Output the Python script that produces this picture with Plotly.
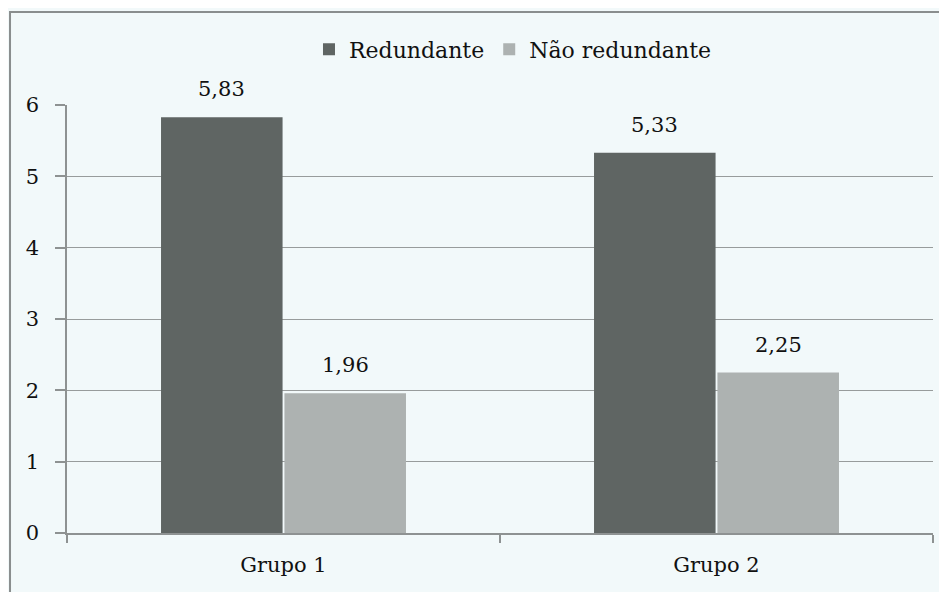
import plotly.graph_objects as go

# DATA
grupos = ["Grupo 1", "Grupo 2"]
redundante = [5.83, 5.33]
nao_redundante = [1.96, 2.25]
y_ticks = [0, 1, 2, 3, 4, 5, 6]

def fmt(v):
    return f"{v:.2f}".replace(".", ",")

font = dict(family="DejaVu Serif", size=21, color="#111111")

# CREATE FIGURE
fig = go.Figure()
fig.add_trace(go.Bar(name="Redundante", x=grupos, y=redundante,
                     marker=dict(color="#5f6563", line=dict(width=0))))
fig.add_trace(go.Bar(name="Não redundante", x=grupos, y=nao_redundante,
                     marker=dict(color="#adb2b1", line=dict(width=0))))

# value labels above bars
for vals, dx in [(redundante, -62), (nao_redundante, 62)]:
    for g, v in zip(grupos, vals):
        fig.add_annotation(x=g, y=v, text=fmt(v), showarrow=False, xshift=dx,
                           yanchor="bottom", yshift=14, font=font)

# LAYOUT (page body has an 8px margin)
fig.update_layout(
    width=939, height=584,
    margin=dict(l=59, r=14, t=97, b=59),
    paper_bgcolor="#f2f9fa", plot_bgcolor="#f2f9fa",
    font=font,
    barmode="group", bargap=0.43, bargroupgap=0.015,
    showlegend=True,
    legend=dict(orientation="h", x=0.515, xanchor="center", y=1.13, yanchor="middle",
                font=dict(family="DejaVu Serif", size=22, color="#111111"),
                itemwidth=30, bgcolor="rgba(0,0,0,0)"),
)
fig.update_xaxes(type="category", showline=True, linecolor="#8e9292", linewidth=2,
                 ticks="outside", tickson="boundaries", ticklen=8, tickcolor="#8e9292",
                 tickwidth=1.5, showgrid=False, tickfont=font, ticklabelstandoff=12)
fig.update_yaxes(range=[0, 6], tickvals=y_ticks, showline=True, linecolor="#8e9292",
                 linewidth=1.5, ticks="outside", ticklen=10, tickcolor="#8e9292",
                 tickwidth=1.5, showgrid=True, gridcolor="#989c9c", gridwidth=1.2,
                 zeroline=False, tickfont=font, ticklabelstandoff=12)

# BORDER
fig.add_shape(type="rect", xref="paper", yref="paper", x0=-0.0658, x1=1.05,
              y0=-0.2, y1=1.217, line=dict(color="#8a8e8e", width=2),
              fillcolor="rgba(0,0,0,0)", layer="below")

fig.write_html("out.html")
